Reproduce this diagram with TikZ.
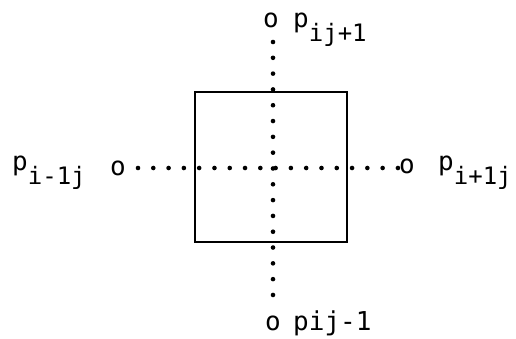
\documentclass[tikz,border=0pt]{standalone}
\usepackage{fontspec}
\newfontfamily\typewr{DejaVu Sans Mono}
\newcommand{\lowsub}[1]{\raisebox{-14pt}{\fontsize{24}{24}\selectfont #1}}
\begin{document}
\begin{tikzpicture}[x=1pt,y=1pt,
  lbl/.style={font=\typewr\fontsize{26}{26}\selectfont, inner sep=0pt, anchor=base west},
  ring/.style={font=\typewr\fontsize{26}{26}\selectfont, inner sep=0pt, anchor=base},
  cell/.style={draw, line width=2.7pt, minimum width=152pt, minimum height=150pt, inner sep=0pt},
  dotline/.style={line width=4.6pt, line cap=round}]
\useasboundingbox (0,0) rectangle (516,338);
\node[cell] (sq) at (271,171) {};
% o markers
\node[ring] (ot) at (271,310) {o};
\node[ring] (ob) at (273,8) {o};
\node[ring] (ol) at (118,163) {o};
\node[ring] (or) at (407,165) {o};
% labels
\node[lbl] (lt) at (293,310) {p\lowsub{ij+1}};
\node[lbl] (lb) at (293,8) {pij-1};
\node[lbl] (ll) at (12,168) {p\lowsub{i-1j}};
\node[lbl] (lr) at (438,168) {p\lowsub{i+1j}};
% dotted connectors
\coordinate (vt) at (273,296);
\coordinate (vb) at (273,43);
\coordinate (hl) at (138,170);
\coordinate (hr) at (398,170);
\draw[dotline, dash pattern=on 0pt off 15.81pt] (vt) -- (vb);
\draw[dotline, dash pattern=on 0pt off 15.29pt] (hl) -- (hr);
\end{tikzpicture}
\end{document}
